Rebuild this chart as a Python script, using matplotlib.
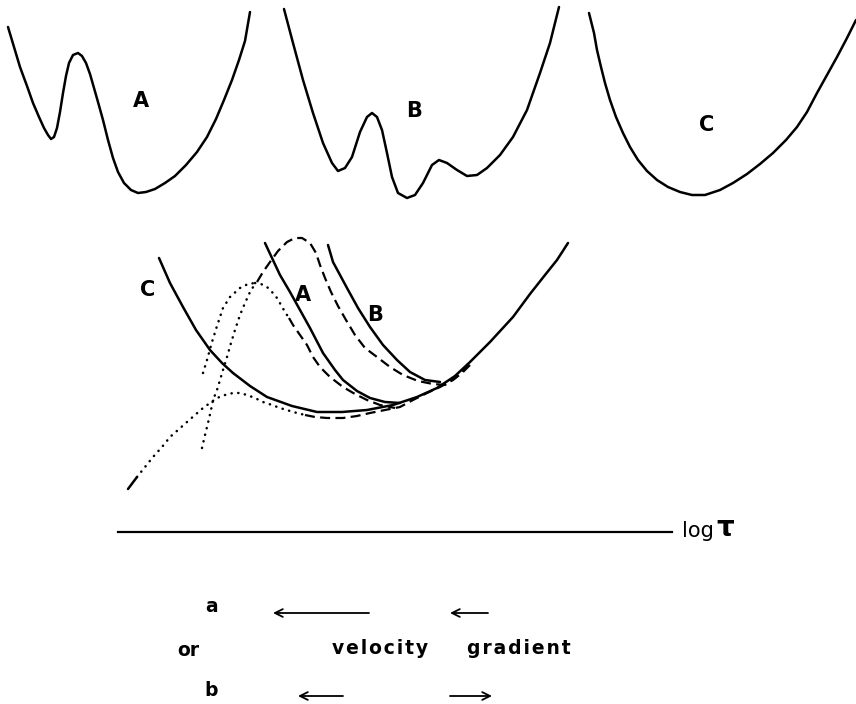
import matplotlib
matplotlib.use('Agg')
import matplotlib.pyplot as plt

# ---- upper row: three potential curves (pixel coords)
top_a_x = [8, 14, 20, 27, 33, 39, 44, 48, 51, 54, 57, 60, 63, 66, 69, 73, 78, 82, 86, 90, 94, 98,
           103, 108, 113, 118, 124, 131, 138, 146, 155, 165, 175, 186, 197, 207, 216, 224, 232, 239, 245, 250]
top_a_y = [27, 47, 67, 86, 103, 117, 128, 135, 139, 137, 128, 112, 93, 76, 63, 55, 53, 56, 63, 74, 88, 102,
           120, 140, 158, 172, 183, 190, 193, 192, 189, 183, 176, 165, 152, 137, 119, 100, 80, 60, 41, 12]

top_b_x = [284, 293, 303, 313, 323, 332, 338, 345, 352, 360, 367, 372, 377, 382, 387, 392, 398, 407,
           415, 423, 432, 439, 447, 457, 467, 477, 487, 500, 513, 527, 540, 550, 559]
top_b_y = [9, 43, 80, 113, 143, 163, 171, 168, 157, 132, 117, 113, 117, 130, 153, 177, 193, 198,
           195, 183, 165, 160, 163, 170, 176, 175, 168, 155, 137, 110, 73, 43, 7]

top_c_x = [589, 592, 594, 597, 601, 605, 610, 616, 623, 630, 638, 647, 657, 668, 680, 692, 705, 720,
           733, 747, 760, 773, 786, 797, 807, 817, 827, 837, 847, 856]
top_c_y = [13, 25, 33, 50, 67, 83, 100, 117, 133, 147, 160, 171, 180, 187, 192, 195, 195, 190,
           183, 174, 164, 153, 140, 127, 112, 93, 75, 57, 38, 20]

# ---- lower panel
low_c_x = [159, 170, 183, 196, 210, 222, 233, 250, 267, 292, 317, 342, 367, 393, 417, 437, 455, 470,
           490, 513, 530, 545, 557, 568]
low_c_y = [258, 283, 307, 330, 350, 363, 373, 386, 397, 406, 412, 412, 410, 405, 397, 388, 376, 362,
           342, 317, 294, 275, 260, 243]

low_a_x = [265, 272, 280, 290, 300, 310, 323, 335, 343, 357, 370, 385, 400]
low_a_y = [243, 258, 275, 292, 310, 328, 353, 370, 380, 391, 398, 402, 403]

low_b_x = [328, 333, 340, 347, 358, 370, 383, 397, 410, 425, 440]
low_b_y = [245, 262, 275, 288, 308, 327, 345, 360, 372, 380, 382]

dash_b_x = [257, 263, 270, 278, 287, 295, 302, 310, 316, 320, 325, 331, 338, 346, 355, 365, 377, 390,
            403, 418, 433, 445, 455, 463, 470]
dash_b_y = [282, 272, 262, 251, 242, 238, 238, 243, 253, 265, 278, 292, 306, 320, 335, 348, 357, 367,
            375, 381, 384, 385, 378, 370, 362]

dot_a_x = [255, 261, 267, 272, 277, 281, 285, 289]
dot_a_y = [283, 284, 287, 292, 298, 305, 312, 318]
dash_a_x = [289, 293, 300, 307, 313, 320, 330, 343, 355, 367, 380, 395]
dash_a_y = [318, 325, 335, 345, 357, 367, 377, 387, 394, 400, 405, 408]

dot_steep_x = [202, 205, 208, 211, 213, 217, 220, 223, 227, 231, 235, 240, 245, 250, 255]
dot_steep_y = [448, 435, 423, 410, 400, 390, 380, 370, 357, 343, 330, 315, 303, 292, 284]

dot_left_x = [203, 207, 212, 217, 223, 230, 240, 248, 255]
dot_left_y = [373, 360, 342, 326, 308, 297, 288, 284, 283]

tail_x = [128, 137]
tail_y = [489, 477]
dot_long_x = [137, 145, 153, 162, 170, 178, 187, 195, 203, 210, 217, 225, 233, 240, 247, 255, 263,
              272, 280, 290, 297, 305]
dot_long_y = [477, 467, 457, 447, 437, 430, 422, 415, 408, 403, 398, 395, 393, 393, 395, 398, 402,
              405, 408, 411, 413, 415]
dash_long_x = [305, 315, 327, 343, 357, 370, 385, 400, 413, 427, 440, 453, 462, 470]
dash_long_y = [415, 417, 418, 418, 416, 413, 410, 407, 400, 393, 387, 380, 373, 365]

axis_x = [118, 672]
axis_y = [532, 532]

fig = plt.figure(figsize=(8.56, 7.04), dpi=100)
ax = fig.add_axes([0, 0, 1, 1])
ax.set_xlim(0, 856)
ax.set_ylim(704, 0)
ax.axis('off')

solid = dict(color='black', lw=1.8, solid_capstyle='round', solid_joinstyle='round')
dashed = dict(color='black', lw=1.6, linestyle=(0, (4.5, 2.4)), dash_capstyle='butt')
dotted = dict(color='black', lw=1.8, linestyle=(0, (0.1, 2.6)), dash_capstyle='round')

for xs, ys in [(top_a_x, top_a_y), (top_b_x, top_b_y), (top_c_x, top_c_y),
               (low_c_x, low_c_y), (low_a_x, low_a_y), (low_b_x, low_b_y), (tail_x, tail_y)]:
    ax.plot(xs, ys, **solid)

for xs, ys in [(dash_b_x, dash_b_y), (dash_a_x, dash_a_y), (dash_long_x, dash_long_y)]:
    ax.plot(xs, ys, **dashed)

for xs, ys in [(dot_a_x, dot_a_y), (dot_steep_x, dot_steep_y), (dot_left_x, dot_left_y),
               (dot_long_x, dot_long_y)]:
    ax.plot(xs, ys, **dotted)

ax.plot(axis_x, axis_y, color='black', lw=1.6)

# curve labels
lab = dict(fontsize=15, fontweight='bold', ha='center', va='center')
ax.text(141, 101, 'A', **lab)
ax.text(414, 111, 'B', **lab)
ax.text(707, 125, 'C', **lab)
ax.text(148, 290, 'C', **lab)
ax.text(303, 295, 'A', **lab)
ax.text(375, 315, 'B', **lab)

ax.text(682, 531, 'log', fontsize=15, ha='left', va='center')
ax.text(716, 528, r'$\mathbf{\tau}$', fontsize=20, ha='left', va='center')

small = dict(fontsize=13.5, fontweight='bold', ha='center', va='center')
ax.text(212, 607, 'a', **small)
ax.text(188, 650, 'or', **small)
ax.text(211, 691, 'b', **small)
sp = '\u200a'
ax.text(332, 648, sp.join('velocity'), fontsize=13.5, fontweight='bold', ha='left', va='center')
ax.text(467, 648, sp.join('gradient'), fontsize=13.5, fontweight='bold', ha='left', va='center')

arr = dict(arrowstyle='->', color='black', lw=1.3, mutation_scale=14, shrinkA=0, shrinkB=0)
ax.annotate('', xy=(273, 613), xytext=(369, 613), arrowprops=arr)
ax.annotate('', xy=(450, 613), xytext=(488, 613), arrowprops=arr)
ax.annotate('', xy=(298, 696), xytext=(343, 696), arrowprops=arr)
ax.annotate('', xy=(492, 696), xytext=(450, 696), arrowprops=arr)

fig.savefig('out.png', dpi=100)
